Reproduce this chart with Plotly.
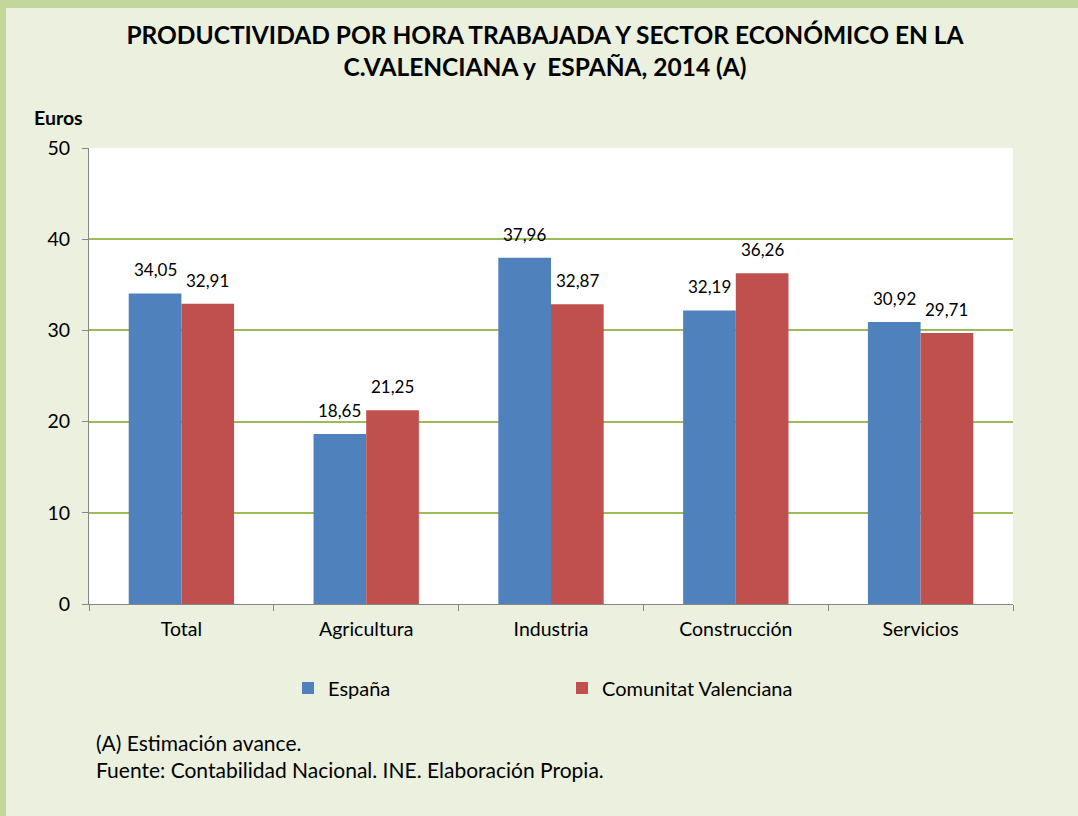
import plotly.graph_objects as go

categories = ["Total", "Agricultura", "Industria", "Construcción", "Servicios"]
espana = [34.05, 18.65, 37.96, 32.19, 30.92]
valencia = [32.91, 21.25, 32.87, 36.26, 29.71]
series_names = ["España", "Comunitat Valenciana"]
title_text = "PRODUCTIVIDAD POR HORA TRABAJADA Y SECTOR ECONÓMICO EN LA<br>C.VALENCIANA y\u00a0 ESPAÑA, 2014 (A)"
notes = ["(A) Estimación avance.", "Fuente: Contabilidad Nacional. INE. Elaboración Propia."]

FONT = "Lato, Calibri, 'Open Sans', sans-serif"
W, H = 1078, 816
L, R, T, B = 89, 65, 148, 212
pw, ph = W - L - R, H - T - B
BARGAP = 0.43

def px(x):
    return (x - L) / pw

def py(y):
    return (H - B - y) / ph

def fmt(v):
    return f"{v:.2f}".replace(".", ",")

fig = go.Figure()
for vals, name, color in [(espana, series_names[0], "#4F81BD"), (valencia, series_names[1], "#C0504D")]:
    fig.add_trace(go.Bar(x=categories, y=vals, name=name,
                         marker=dict(color=color, line=dict(width=0)),
                         hovertemplate="%{x}: %{y:.2f}<extra>" + name + "</extra>"))

shapes = [
    dict(type="rect", xref="paper", yref="paper", x0=px(0), x1=px(6), y0=py(H), y1=py(0),
         fillcolor="#C3D69B", line=dict(width=0), layer="above"),
    dict(type="rect", xref="paper", yref="paper", x0=px(0), x1=px(W), y0=py(8), y1=py(0),
         fillcolor="#C3D69B", line=dict(width=0), layer="above"),
]

annotations = [
    dict(text="<b>Euros</b>", xref="paper", yref="paper", x=px(32), y=py(118),
         xanchor="left", yanchor="middle", showarrow=False,
         font=dict(size=19.5, family=FONT, color="#000000")),
    dict(text=notes[0], xref="paper", yref="paper", x=px(94), y=py(742),
         xanchor="left", yanchor="middle", showarrow=False,
         font=dict(size=21, family=FONT, color="#000000")),
    dict(text=notes[1], xref="paper", yref="paper", x=px(94), y=py(769),
         xanchor="left", yanchor="middle", showarrow=False,
         font=dict(size=21, family=FONT, color="#000000")),
]

# data labels above each bar (positioned through the category axis)
half = (1 - BARGAP) / 4
for i, cat in enumerate(categories):
    for vals, sign in [(espana, -1), (valencia, 1)]:
        annotations.append(dict(
            x=i + sign * half, y=vals[i], xref="x", yref="y", text=fmt(vals[i]),
            showarrow=False, xanchor="center", yanchor="bottom", yshift=11,
            font=dict(size=17, family=FONT, color="#000000")))

fig.update_layout(
    width=W, height=H,
    margin=dict(l=L, r=R, t=T, b=B, pad=0),
    paper_bgcolor="#EBF1DE", plot_bgcolor="#FFFFFF",
    separators=",.",
    title=dict(text="<b>" + title_text + "</b>", x=545 / W, xref="container", xanchor="center",
               y=1 - 44 / H, yref="container", yanchor="middle",
               font=dict(size=24.5, family=FONT, color="#000000")),
    font=dict(family=FONT, size=19, color="#000000"),
    barmode="group", bargap=BARGAP, bargroupgap=0,
    xaxis=dict(showline=True, linecolor="#868686", linewidth=1, ticks="outside",
               tickson="boundaries", ticklen=6, tickcolor="#868686", ticklabelstandoff=8,
               tickfont=dict(size=19.5, family=FONT), showgrid=False),
    yaxis=dict(range=[0, 50], dtick=10, showline=True, linecolor="#868686", linewidth=1,
               ticks="outside", ticklen=6, tickcolor="#868686", ticklabelstandoff=8,
               gridcolor="#9BBB59", gridwidth=1.5, zeroline=False,
               tickfont=dict(size=19.5, family=FONT)),
    legend=dict(orientation="h", x=px(288), y=py(688), xanchor="left", yanchor="middle",
                entrywidth=229, entrywidthmode="pixels", bgcolor="rgba(0,0,0,0)",
                font=dict(size=20, family=FONT), traceorder="normal"),
    shapes=shapes, annotations=annotations,
)

fig.write_html("out.html", config={"displayModeBar": False},
               post_script="document.body.style.margin='0';")
